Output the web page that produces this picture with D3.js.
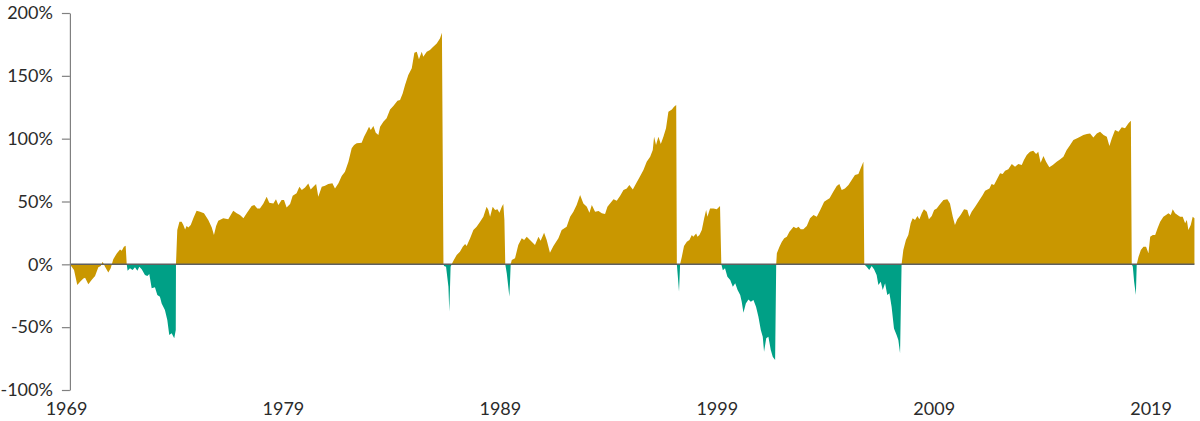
<!DOCTYPE html>
<html>
<head>
<meta charset="utf-8">
<script src="https://cdn.jsdelivr.net/npm/d3@7"></script>
<style>
  html, body { margin: 0; padding: 0; background: #fff; }
  svg { display: block; }
  .tick text { font-family: Lato, "Open Sans", sans-serif; font-size: 18px; fill: #2b2b2b; }
</style>
</head>
<body>
<svg id="chart" width="1200" height="421"></svg>
<script>
// ---- DATA ----
const years = [
1969.18,1969.26,1969.37,1969.52,1969.65,1969.80,1969.88,1970.03,1970.18,1970.34,1970.49,1970.60,1970.69,1970.80,1970.95,
1971.06,1971.18,1971.34,1971.49,1971.57,1971.67,1971.75,1971.80,1971.84,1971.95,1972.07,1972.18,1972.29,1972.38,1972.49,
1972.64,1972.75,1972.84,1972.95,1973.10,1973.21,1973.33,1973.41,1973.56,1973.67,1973.76,1973.87,1973.99,1974.06,1974.07,
1974.13,1974.23,1974.33,1974.41,1974.49,1974.56,1974.64,1974.75,1974.87,1975.02,1975.18,1975.36,1975.56,1975.72,1975.82,
1975.92,1976.02,1976.25,1976.48,1976.71,1976.87,1977.02,1977.18,1977.33,1977.56,1977.68,1977.82,1977.94,1978.10,1978.25,
1978.37,1978.56,1978.68,1978.79,1978.94,1979.05,1979.17,1979.33,1979.45,1979.63,1979.76,1979.87,1980.02,1980.17,1980.28,
1980.40,1980.53,1980.63,1980.79,1980.94,1981.09,1981.28,1981.40,1981.56,1981.71,1981.86,1982.02,1982.17,1982.28,1982.40,
1982.63,1982.74,1982.86,1982.97,1983.05,1983.17,1983.28,1983.40,1983.48,1983.63,1983.78,1983.94,1984.09,1984.28,1984.40,
1984.52,1984.63,1984.78,1984.94,1985.06,1985.17,1985.27,1985.40,1985.47,1985.63,1985.78,1985.93,1986.09,1986.24,1986.33,
1986.40,1986.43,1986.52,1986.63,1986.67,1986.73,1986.78,1986.86,1987.01,1987.16,1987.29,1987.40,1987.47,1987.63,1987.78,
1987.93,1988.09,1988.24,1988.39,1988.47,1988.55,1988.67,1988.78,1988.89,1988.98,1989.09,1989.16,1989.21,1989.25,1989.32,
1989.44,1989.50,1989.55,1989.70,1989.85,1990.01,1990.12,1990.24,1990.39,1990.62,1990.78,1990.88,1991.04,1991.16,1991.31,
1991.47,1991.70,1991.85,1992.08,1992.24,1992.39,1992.54,1992.70,1992.85,1993.01,1993.13,1993.24,1993.39,1993.55,1993.70,
1993.85,1993.96,1994.08,1994.24,1994.39,1994.54,1994.70,1994.85,1994.97,1995.13,1995.28,1995.44,1995.62,1995.77,1995.93,
1996.05,1996.11,1996.20,1996.31,1996.42,1996.54,1996.66,1996.77,1996.93,1997.03,1997.13,1997.16,1997.20,1997.26,1997.31,
1997.39,1997.49,1997.62,1997.74,1997.85,1997.92,1998.05,1998.11,1998.20,1998.31,1998.42,1998.51,1998.57,1998.69,1998.85,
1999.00,1999.15,1999.21,1999.28,1999.38,1999.49,1999.62,1999.74,1999.85,1999.96,2000.08,2000.15,2000.23,2000.34,2000.46,
2000.57,2000.69,2000.81,2000.92,2001.03,2001.12,2001.18,2001.28,2001.38,2001.49,2001.58,2001.69,2001.74,2001.77,2001.89,
2002.00,2002.11,2002.23,2002.35,2002.54,2002.66,2002.77,2002.87,2002.99,2003.15,2003.30,2003.46,2003.61,2003.77,2003.95,
2004.07,2004.20,2004.37,2004.53,2004.65,2004.76,2004.91,2005.07,2005.22,2005.37,2005.53,2005.63,2005.76,2005.80,2005.91,
2006.03,2006.14,2006.25,2006.37,2006.45,2006.56,2006.65,2006.76,2006.86,2006.96,2007.06,2007.17,2007.29,2007.37,2007.45,
2007.52,2007.60,2007.72,2007.83,2007.94,2008.03,2008.14,2008.25,2008.34,2008.45,2008.55,2008.68,2008.78,2008.91,2009.02,
2009.14,2009.26,2009.45,2009.63,2009.75,2009.88,2009.98,2010.09,2010.24,2010.40,2010.55,2010.64,2010.75,2010.91,2011.06,
2011.26,2011.37,2011.57,2011.67,2011.78,2011.90,2012.06,2012.18,2012.29,2012.44,2012.60,2012.75,2012.90,2013.06,2013.16,
2013.29,2013.44,2013.59,2013.72,2013.82,2013.93,2014.06,2014.18,2014.33,2014.49,2014.67,2014.82,2014.98,2015.13,2015.29,
2015.44,2015.59,2015.75,2015.90,2016.06,2016.21,2016.36,2016.52,2016.67,2016.83,2016.98,2017.10,2017.21,2017.36,2017.52,
2017.67,2017.82,2017.98,2018.09,2018.13,2018.18,2018.24,2018.32,2018.36,2018.44,2018.55,2018.67,2018.79,2018.90,2018.98,
2019.10,2019.21,2019.32,2019.44,2019.59,2019.71,2019.82,2019.93,2020.02,2020.13,2020.24,2020.36,2020.48,2020.59,2020.67,
2020.74,2020.85,2020.94,2021.02
];
const values = [
0,-1.9,-4.5,-16.5,-13.8,-11.2,-10.6,-15.9,-12.5,-9.3,-2.4,-1.4,2.1,-1.9,-6.4,
-3.2,4.0,8.7,11.9,10.9,14.0,14.8,0,-5.1,-3.2,-4.5,-2.4,-5.1,-1.9,-4.0,
-8.5,-9.3,-7.7,-19.1,-18.3,-24.4,-25.8,-31.1,-36.4,-44.3,-56.2,-54.9,-58.9,-52.3,0,
27.3,33.9,33.9,31.3,27.8,30.5,29.4,31.3,36.6,42.7,41.9,40.6,35.3,29.4,23.3,
30.5,34.7,36.6,35.8,42.7,40.6,39.2,36.6,40.6,46.4,47.2,44.5,44.5,48.5,53.8,
49.1,48.5,51.7,47.2,51.2,51.2,45.3,48.0,54.6,56.5,61.8,59.1,61.2,64.4,59.6,
61.8,63.9,53.8,61.8,62.6,63.9,64.5,60.4,64.5,70.3,73.7,81.7,92.3,95.0,96.3,
96.8,101.6,105.6,109.5,106.9,110.0,104.7,102.9,109.5,113.5,116.2,123.3,125.9,130.2,130.7,
136.0,142.7,150.6,156.0,168.4,169.2,163.1,169.2,165.2,169.2,170.5,173.2,175.8,179.8,184.3,
0,-1.3,-1.9,-17.8,-37.8,-1.9,0,2.9,7.4,10.0,14.0,16.2,14.6,20.7,27.3,
29.9,33.9,37.9,45.9,43.2,37.9,45.9,43.2,43.8,41.1,45.9,48.0,35.3,0,-7.2,
-25.7,0,3.4,4.8,15.4,20.7,19.3,21.9,19.3,15.4,21.9,18.8,25.2,19.3,9.3,
14.6,20.7,27.3,29.9,37.9,41.9,47.2,55.1,48.5,45.9,41.1,47.2,41.9,42.4,40.6,
40.0,45.9,48.5,51.7,50.6,54.3,59.1,60.4,63.1,59.6,64.4,69.2,75.0,81.7,85.7,
91.0,101.6,95.0,101.6,95.8,101.6,108.2,121.5,123.3,125.4,126.8,0,-8.5,-21.8,0,
6.1,14.6,18.0,19.3,23.3,22.0,24.6,22.0,23.3,27.3,36.6,43.2,37.9,44.5,44.5,
43.8,46.4,0,-4.8,-3.2,-9.8,-12.5,-17.8,-15.1,-20.4,-24.4,-29.7,-38.5,-31.1,-27.9,
-29.7,-28.4,-33.7,-41.7,-52.3,-57.6,-69.5,-58.9,-57.6,-68.2,-73.5,-76.1,0,8.8,14.0,
18.0,20.7,22.0,26.0,30.0,28.7,30.0,27.9,27.9,30.5,36.6,39.2,37.9,43.2,49.9,
51.2,52.5,57.8,62.3,63.9,59.1,60.4,63.1,67.1,71.1,71.8,76.3,81.7,0,-1.9,
-4.5,-1.3,-4.0,-8.5,-16.4,-13.8,-20.4,-15.1,-24.4,-23.1,-33.7,-51.0,-56.2,-60.2,-70.8,
0,11.4,19.3,23.3,32.6,36.6,35.3,38.5,35.8,40.6,43.8,41.9,35.8,38.5,43.2,
44.5,47.2,51.2,51.7,48.5,37.9,31.3,35.8,39.2,43.8,43.2,37.9,41.9,45.9,49.9,
55.2,58.6,60.4,63.9,63.1,67.1,72.4,71.8,74.5,75.6,79.8,77.7,79.8,79.0,83.0,
87.0,89.6,90.4,87.7,89.6,80.9,86.2,81.7,77.2,79.0,81.7,83.5,85.7,91.0,94.9,
98.9,100.2,101.6,102.9,103.7,104.2,101.0,104.2,105.5,102.9,101.6,94.1,100.2,106.9,105.5,
109.0,108.2,112.2,114.3,0,-1.9,-13.8,-24.4,0,5.8,11.4,14.0,14.0,8.8,22.0,
23.3,23.3,28.7,33.9,37.9,39.2,40.6,39.2,43.8,40.6,39.2,37.9,37.9,32.6,35.3,
27.3,31.3,37.9,36.6
];
// bear-market phases (teal); everything else is bull phase (gold)
const bearStarts = [1971.80, 1986.40, 1989.25, 1997.16, 1999.21, 2005.80, 2018.13];
const bearEnds   = [1974.07, 1986.78, 1989.50, 1997.31, 2001.74, 2007.52, 2018.36];
const yTicks = [-100, -50, 0, 50, 100, 150, 200];
const xTickYears = [1969, 1979, 1989, 1999, 2009, 2019];

// ---- CHART ----
const svg = d3.select("#chart");
const x = d3.scaleLinear().domain([1969, 2021]).range([66, 1194]);
const y = d3.scaleLinear().domain([-100, 200]).range([390, 13]);

const points = years.map((yr, i) => ({ yr, v: values[i] }));

// build segments alternating bull/bear
const first = years[0], last = years[years.length - 1];
const segments = [];
let cur = first;
bearStarts.forEach((s, i) => {
  segments.push({ from: cur, to: s, bear: false });
  segments.push({ from: s, to: bearEnds[i], bear: true });
  cur = bearEnds[i];
});
segments.push({ from: cur, to: last, bear: false });

const area = d3.area()
  .x(d => x(d.yr))
  .y0(y(0))
  .y1(d => y(d.v));

svg.append("g").selectAll("path")
  .data(segments)
  .join("path")
  .attr("d", s => area(points.filter(p => p.yr >= s.from - 1e-9 && p.yr <= s.to + 1e-9)))
  .attr("fill", s => s.bear ? "#00A086" : "#C99700");

// zero line
svg.append("line")
  .attr("x1", x(first)).attr("x2", x(last))
  .attr("y1", y(0)).attr("y2", y(0))
  .attr("stroke", "#5f5f5f").attr("stroke-width", 1.5);

// y axis
const yAxis = svg.append("g")
  .attr("transform", `translate(${x(first)},0)`)
  .call(d3.axisLeft(y).tickValues(yTicks).tickFormat(d => d + "%").tickSize(8).tickPadding(9).tickSizeOuter(0));
yAxis.select(".domain").attr("stroke", "#808080").attr("stroke-width", 1.2);
yAxis.selectAll(".tick line").attr("stroke", "#808080").attr("stroke-width", 1.2);

// x labels
const xAxis = svg.append("g")
  .attr("transform", `translate(0,${y(-100)})`)
  .call(d3.axisBottom(x).tickValues(xTickYears).tickFormat(d3.format("d")).tickSize(0).tickPadding(12));
xAxis.select(".domain").remove();
</script>
</body>
</html>
